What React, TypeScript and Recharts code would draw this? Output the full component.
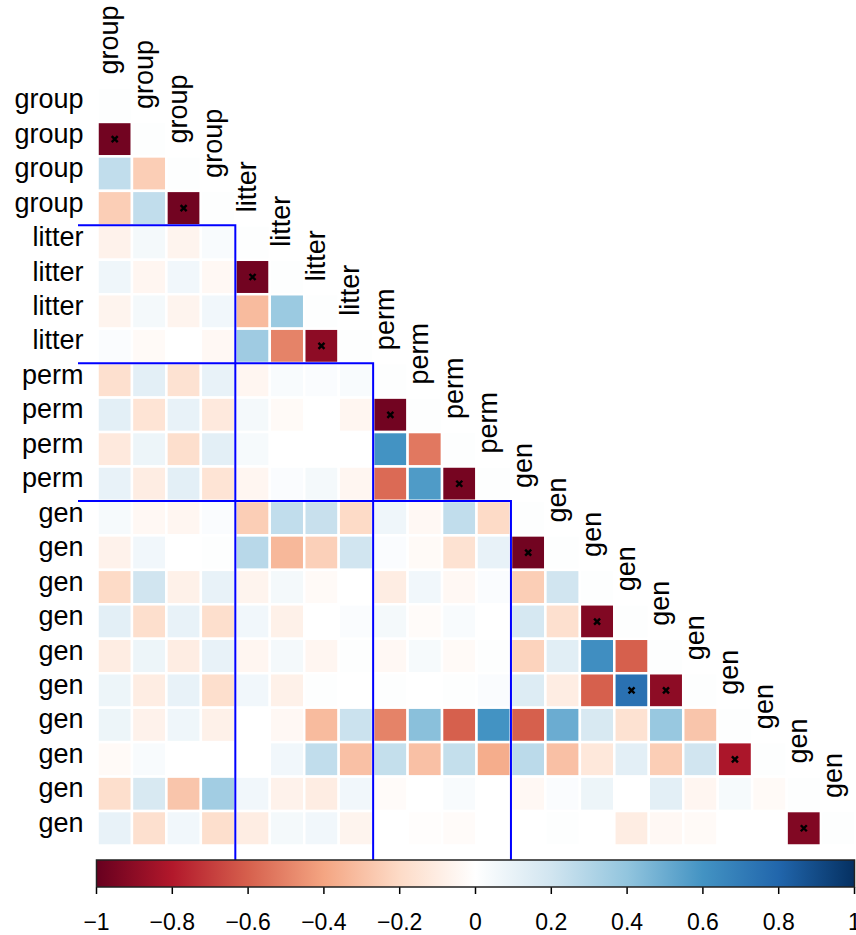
import React from 'react';
import { ScatterChart, Scatter, XAxis, YAxis, ComposedChart, Area } from 'recharts';

const labels = [
  'group', 'group', 'group', 'group',
  'litter', 'litter', 'litter', 'litter',
  'perm', 'perm', 'perm', 'perm',
  'gen', 'gen', 'gen', 'gen', 'gen', 'gen', 'gen', 'gen', 'gen', 'gen',
];

// last index of each block, blue boxes drawn after these
const groupEnds = [4, 8, 12];

// lower triangle, row by row (diagonal left out)
const groupRows = [
  [],
  [-0.97],
  [0.25, -0.25],
  [-0.25, 0.25, -0.97],
];
const litterRows = [
  [-0.07, 0.05, -0.06, 0.03],
  [0.07, -0.05, 0.06, -0.04, -0.97],
  [-0.06, 0.05, -0.06, 0.06, -0.32, 0.37],
  [0.02, -0.03, 0, -0.04, 0.36, -0.5, -0.9],
];
const permRows = [
  [-0.17, 0.12, -0.16, 0.1, -0.05, 0.03, 0.02, 0.03],
  [0.12, -0.15, 0.1, -0.12, 0.05, -0.03, 0, -0.05, -0.97],
  [-0.12, 0.08, -0.18, 0.12, 0.04, 0, 0, 0, 0.6, -0.53],
  [0.1, -0.1, 0.12, -0.15, -0.05, 0.02, 0.05, -0.05, -0.57, 0.57, -0.96],
];
const genRows = [
  [0.04, -0.04, -0.05, 0.02, -0.25, 0.25, 0.23, -0.2, 0.07, -0.04, 0.25, -0.2],
  [-0.07, 0.06, 0, 0.01, 0.28, -0.33, -0.24, 0.2, 0.02, -0.03, -0.16, 0.1, -0.97],
  [-0.2, 0.2, -0.08, 0.1, -0.06, 0.05, -0.03, 0, -0.1, 0.06, -0.04, 0.02, -0.25, 0.2],
  [0.12, -0.18, 0.1, -0.18, 0.06, -0.08, 0, 0.02, 0.05, -0.02, 0.03, 0, 0.18, -0.17, -0.93],
  [-0.1, 0.08, -0.1, 0.1, -0.05, 0.05, -0.05, 0.01, -0.04, 0.04, -0.03, 0.01, -0.23, 0.13, 0.62, -0.6],
  [0.08, -0.1, 0.1, -0.18, 0.06, -0.08, 0.01, 0, 0.01, 0, 0.01, 0.02, 0.15, -0.1, -0.6, 0.75, -0.9],
  [0.08, -0.07, 0.07, -0.08, 0, -0.04, -0.32, 0.22, -0.5, 0.42, -0.6, 0.6, -0.6, 0.5, 0.17, -0.16, 0.38, -0.28],
  [-0.03, 0.03, 0, 0, 0, 0.06, 0.25, -0.3, 0.24, -0.3, 0.24, -0.37, 0.27, -0.3, -0.13, 0.12, -0.25, 0.2, -0.82],
  [-0.18, 0.17, -0.28, 0.35, 0.06, -0.07, -0.1, 0.06, -0.02, 0, 0.03, 0, -0.04, 0.02, 0.08, 0, 0.12, -0.05, 0.04, -0.03],
  [0.1, -0.17, 0.06, -0.18, -0.1, 0.05, 0.06, -0.06, 0, -0.01, -0.02, 0, 0, 0.01, 0, -0.1, -0.04, -0.03, 0, 0, -0.93],
];

// [row, col] of the starred cells
const sigCells = [
  [2, 1], [4, 3], [6, 5], [8, 7], [10, 9], [12, 11],
  [14, 13], [16, 15], [18, 16], [18, 17], [20, 19], [22, 21],
];

const cbTicks = [-1, -0.8, -0.6, -0.4, -0.2, 0, 0.2, 0.4, 0.6, 0.8, 1];
const rdbu = ['#67001F', '#B2182B', '#D6604D', '#F4A582', '#FDDBC7', '#FFFFFF', '#D1E5F0', '#92C5DE', '#4393C3', '#2166AC', '#053061'];

const W = 856;
const H = 935;
const N = labels.length;
const LEFT = 97.5; // left edge of the cells
const TOP = 87.5;
const CELL = 758 / N;
// plot area reaches out to where the blue lines start/end
const BOX_X0 = 78;
const BOX_Y1 = 862;
const PLOT_R = LEFT + N * CELL;
const xDomain = [0.5 - (LEFT - BOX_X0) / CELL, N + 0.5];
const yDomain = [0.5, N + 0.5 + (BOX_Y1 - (TOP + N * CELL)) / CELL];
const FONT = 'Liberation Sans, Arial, sans-serif';

const hexRgb = (h: string) => [1, 3, 5].map((i) => parseInt(h.slice(i, i + 2), 16));

function colorOf(v: number) {
  const t = Math.max(0, Math.min(1, (v + 1) / 2)) * (rdbu.length - 1);
  const i = Math.min(rdbu.length - 2, Math.floor(t));
  const f = t - i;
  const a = hexRgb(rdbu[i]);
  const b = hexRgb(rdbu[i + 1]);
  const c = a.map((x, k) => Math.round(x + (b[k] - x) * f));
  return `rgb(${c[0]},${c[1]},${c[2]})`;
}

const allRows = [...groupRows, ...litterRows, ...permRows, ...genRows];
const cells = allRows.flatMap((row, r) =>
  [...row, 0.01].map((v, c) => ({ x: c + 1, y: r + 1, v }))
);
const labelPts = labels.map((name, i) => ({ x: i + 1, y: i + 1, name }));
const sigPts = sigCells.map(([r, c]) => ({ x: c, y: r }));
// blue block outlines: top edge from the row labels, right edge down to the colour bar
const boxes = groupEnds.map((g) => [
  { x: xDomain[0], y: g + 0.5 },
  { x: g + 0.5, y: g + 0.5 },
  { x: g + 0.5, y: yDomain[1] },
]);
const cbFill = [{ v: -1, h: 1 }, { v: 1, h: 1 }];
const cbFrame = [
  { v: -1, h: 0 }, { v: -1, h: 1 }, { v: 1, h: 1 }, { v: 1, h: 0 }, { v: -1, h: 0 },
];

const CellShape = (p: any) => (
  <rect
    x={p.cx - CELL / 2}
    y={p.cy - CELL / 2}
    width={CELL}
    height={CELL}
    fill={colorOf(p.payload.v)}
    stroke="#fff"
    strokeWidth={2.5}
  />
);

const SigShape = (p: any) => {
  const s = 3;
  return (
    <path
      d={`M${p.cx - s},${p.cy - s}L${p.cx + s},${p.cy + s}M${p.cx + s},${p.cy - s}L${p.cx - s},${p.cy + s}`}
      stroke="#000"
      strokeWidth={2.4}
    />
  );
};

const ColLabel = (p: any) => {
  const x = p.cx + 3.5;
  const y = p.cy - CELL / 2 - 13;
  return (
    <text x={x} y={y} transform={`rotate(-90 ${x} ${y})`} fontSize={27} fontFamily={FONT} fill="#000" textAnchor="start">
      {p.payload.name}
    </text>
  );
};

// row names end a little right of the axis (the axis sits where the blue lines start)
const RowTick = (p: any) => (
  <text x={LEFT - 14} y={p.y + 3.5} textAnchor="end" fontSize={27} fontFamily={FONT} fill="#000">
    {labels[p.payload.value - 1]}
  </text>
);

const NoDot = () => <g />;

const fmt = (v: number) => (v === 0 ? '0' : String(v).replace('-', '\u2212'));

export default function App() {
  const rowTicks = labels.map((_, i) => i + 1);
  return (
    <div style={{ position: 'absolute', left: 0, top: 0, width: W, height: H, background: '#fff', overflow: 'hidden' }}>
      <div style={{ position: 'absolute', left: 0, top: 0 }}>
        <ScatterChart width={W} height={H} margin={{ top: TOP, left: 0, right: W - PLOT_R, bottom: H - BOX_Y1 }}>
          <XAxis dataKey="x" type="number" domain={xDomain} hide />
          <YAxis
            dataKey="y"
            type="number"
            domain={yDomain}
            reversed
            ticks={rowTicks}
            interval={0}
            width={BOX_X0}
            axisLine={false}
            tickLine={false}
            tickSize={0}
            tickMargin={0}
            tick={RowTick}
          />
          <Scatter data={cells} shape={CellShape} isAnimationActive={false} />
          <Scatter data={sigPts} shape={SigShape} isAnimationActive={false} />
          <Scatter data={labelPts} shape={ColLabel} isAnimationActive={false} />
          {boxes.map((b, i) => (
            <Scatter
              key={i}
              data={b}
              shape={NoDot}
              line={{ stroke: '#0000FF', strokeWidth: 2 }}
              lineType="joint"
              isAnimationActive={false}
            />
          ))}
        </ScatterChart>
      </div>
      <div style={{ position: 'absolute', left: 0, top: 0, pointerEvents: 'none' }}>
        <ComposedChart width={W} height={H} data={cbFill} margin={{ top: 860, left: 96.5, right: 1.5, bottom: 0 }}>
          <defs>
            <linearGradient id="cbGrad" x1="0" y1="0" x2="1" y2="0">
              {rdbu.map((c, i) => (
                <stop key={i} offset={`${(i / (rdbu.length - 1)) * 100}%`} stopColor={c} />
              ))}
            </linearGradient>
          </defs>
          <XAxis
            dataKey="v"
            type="number"
            domain={[-1, 1]}
            ticks={cbTicks}
            interval={0}
            height={48}
            axisLine={false}
            tickSize={7}
            tickMargin={20}
            tickLine={{ stroke: '#000', strokeWidth: 1.5 }}
            tick={{ fontSize: 23, fontFamily: FONT, fill: '#000' }}
            tickFormatter={fmt}
          />
          <YAxis type="number" domain={[0, 1]} hide />
          <Area dataKey="h" type="linear" fill="url(#cbGrad)" fillOpacity={1} stroke="none" isAnimationActive={false} />
          <Scatter data={cbFrame} dataKey="h" shape={NoDot} line={{ stroke: '#222', strokeWidth: 1.5 }} lineType="joint" isAnimationActive={false} />
        </ComposedChart>
      </div>
    </div>
  );
}
